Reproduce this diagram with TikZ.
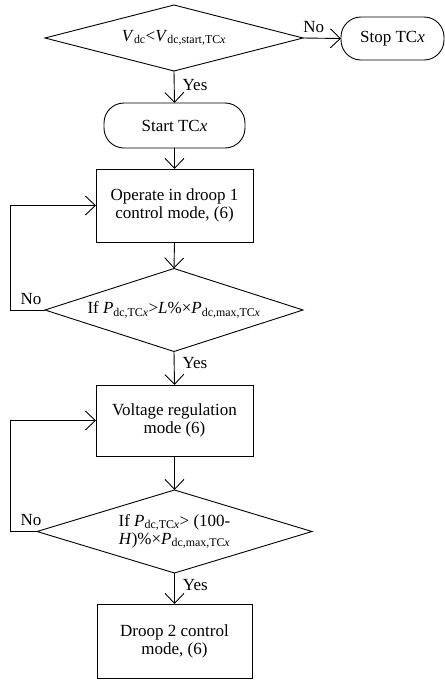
\documentclass[tikz,border=0pt]{standalone}
\usepackage{fontspec}
\setmainfont{Liberation Serif}
\usetikzlibrary{arrows.meta,shapes.geometric}
\newcommand\myfs{\fontsize{17}{18}\selectfont}
\tikzset{
 base/.style={draw, line width=0.9pt, outer sep=0pt, font=\myfs, align=center},
 term/.style={base, rectangle, rounded corners=20pt},
 proc/.style={base, rectangle, minimum width=157pt, minimum height=73pt},
 dec/.style={base, diamond, inner sep=0pt, shape aspect=3.9},
 arr/.style={line width=0.9pt, -{Straight Barb[length=10pt,width=19pt]}},
 lab/.style={font=\myfs, inner sep=0pt}
}
\begin{document}
\begin{tikzpicture}[x=1pt,y=-1pt]
\useasboundingbox (0,0) rectangle (445,681);
\node[dec, minimum width=258pt, minimum height=66pt] (d1) at (174,38)
  {\textit{V}\textsubscript{dc}<\textit{V}\textsubscript{dc,start,TC\textit{x}}};
\node[term, minimum width=103pt, minimum height=43pt] (stop) at (392.5,38.5) {Stop TC\textit{x}};
\node[term, minimum width=141pt, minimum height=45pt] (start) at (174.5,125.5) {Start TC\textit{x}};
\node[proc] (b1) at (174.5,205.5) {Operate in droop 1\\control mode, (6)};
\node[dec, minimum width=258pt, minimum height=83pt] (d2) at (174,310)
  {If \textit{P}\textsubscript{dc,TC\textit{x}}>\textit{L}\%×\textit{P}\textsubscript{dc,max,TC\textit{x}}};
\node[proc, minimum height=71pt] (b2) at (174.5,420.5) {Voltage regulation\\mode (6)};
\node[dec, minimum width=275pt, minimum height=83pt] (d3) at (174.5,531.5)
  {If \textit{P}\textsubscript{dc,TC\textit{x}}> (100-\\\textit{H})\%×\textit{P}\textsubscript{dc,max,TC\textit{x}}};
\node[proc, minimum width=155pt, minimum height=74pt] (b3) at (174.5,641) {Droop 2 control\\mode, (6)};

\draw[arr] (d1.east) -- node[lab, pos=0.28, above=5pt]{No} (stop.west);
\draw[arr] (d1.south) -- node[lab, pos=0.44, anchor=west, xshift=8pt]{Yes} (start.north);
\draw[arr] (start.south) -- (b1.north);
\draw[arr] (b1.south) -- (d2.north);
\draw[arr] (d2.south) -- node[lab, pos=0.35, anchor=west, xshift=8pt]{Yes} (b2.north);
\draw[arr] (b2.south) -- (d3.north);
\draw[arr] (d3.south) -- node[lab, pos=0.39, anchor=west, xshift=8pt]{Yes} (b3.north);
\draw[arr] (d2.west) -- node[lab, pos=0.4, above=5pt]{No} ++(-35,0) |- (b1.west);
\draw[arr] (d3.west) -- node[lab, pos=0.22, above=5pt]{No} ++(-27,0) |- (b2.west);
\end{tikzpicture}
\end{document}
